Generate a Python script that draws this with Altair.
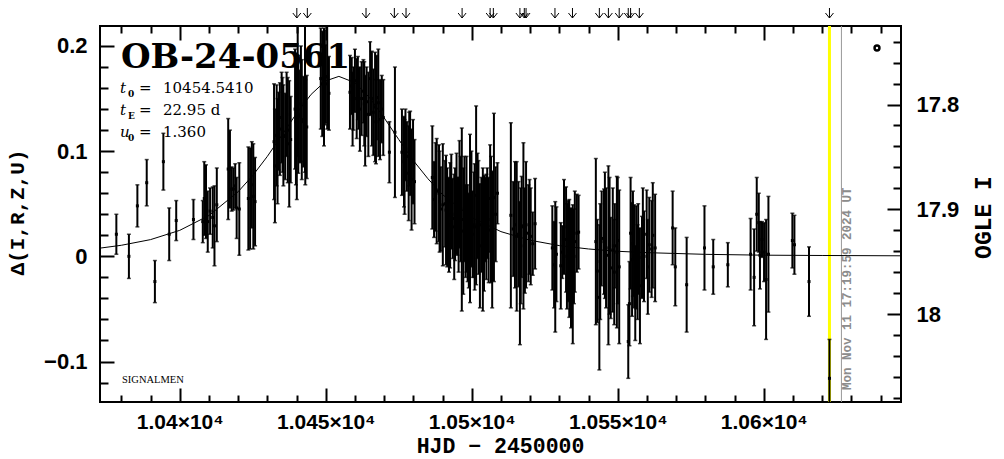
import altair as alt
import pandas as pd

# ---------------- data ----------------
T = [10378.3, 10382.6, 10385.5, 10388.7, 10391.5, 10394.4, 10396.4, 10398.8, 10404.7, 10407.9,
     10408.4, 10409.0, 10409.6, 10410.4, 10411.3, 10411.9, 10412.7, 10416.6, 10417.2, 10417.8,
     10418.4, 10419.0, 10419.5, 10420.4, 10423.5, 10424.1, 10424.7, 10425.2, 10425.8,
     10432.3, 10432.6, 10433.2, 10433.8, 10434.3, 10434.9, 10435.5, 10436.1, 10436.6, 10437.5, 10438.0,
     10439.5, 10440.1, 10440.4, 10440.6, 10441.2, 10441.8, 10442.3, 10442.9, 10443.5,
     10448.3, 10448.8, 10449.4, 10450.0, 10450.5, 10451.1,
     10458.3, 10458.9, 10459.5, 10460.0, 10460.6, 10461.2, 10461.7, 10462.3, 10462.9, 10463.5,
     10464.0, 10464.6, 10465.2, 10466.3, 10466.9, 10467.5, 10468.0, 10468.6, 10469.2, 10469.7,
     10471.8, 10473.7,
     10476.1, 10476.8, 10477.3, 10477.8, 10478.4, 10478.9, 10479.4, 10479.9, 10480.4,
     10486.5, 10487.1, 10488.0, 10488.8, 10489.4, 10490.1, 10490.9, 10491.6, 10492.6, 10493.0,
     10493.5, 10494.3, 10495.1, 10495.8, 10496.2, 10496.6, 10497.1, 10497.9, 10498.2, 10498.6,
     10499.4, 10500.3, 10500.8, 10501.5, 10502.3, 10502.8, 10503.3, 10503.8, 10504.6, 10505.3,
     10505.8, 10506.3, 10507.0, 10507.6, 10508.8,
     10513.4, 10514.2, 10515.4, 10516.0, 10516.5, 10517.1, 10517.7, 10518.6, 10519.4, 10520.2,
     10520.9, 10521.7,
     10527.6, 10528.2, 10528.6, 10530.5, 10531.0, 10531.6, 10532.3, 10533.0, 10533.4, 10534.0,
     10534.6, 10535.3, 10536.0, 10536.6,
     10542.5, 10543.0, 10543.7, 10544.5, 10545.3, 10546.0, 10546.8, 10547.6, 10548.3, 10549.0,
     10549.7, 10550.5,
     10553.6, 10554.4, 10554.9, 10555.6, 10556.3, 10557.0, 10557.6, 10558.3, 10559.0, 10559.9,
     10560.8, 10561.6, 10562.8,
     10568.8, 10569.7, 10573.6, 10579.7, 10582.7, 10587.7,
     10595.5, 10596.7, 10597.6, 10598.3, 10598.7, 10599.4, 10600.1, 10600.8, 10601.6,
     10609.8, 10610.5, 10615.5, 10622.5,
     10433.5, 10435.2, 10437.0, 10439.8, 10441.5, 10443.0, 10449.7, 10459.2, 10461.0, 10463.2,
     10465.8, 10467.2, 10477.0, 10478.6, 10487.6, 10489.0, 10491.2, 10492.2, 10494.0, 10494.8,
     10495.5, 10497.5, 10499.0, 10499.9, 10501.0, 10502.0, 10504.2, 10505.0, 10506.6, 10508.2,
     10514.8, 10516.8, 10518.2, 10519.8, 10529.0, 10532.6, 10535.0, 10544.0, 10545.6, 10547.2,
     10548.8, 10550.0, 10554.0, 10555.2, 10556.0, 10556.8, 10558.6, 10560.3, 10562.0]

D = [0.021, 0.000, 0.048, 0.070, -0.024, 0.090, 0.021, 0.034, 0.035, 0.033,
     0.055, 0.052, 0.033, 0.043, 0.037, 0.029, 0.049, 0.083, 0.083, 0.064,
     0.064, 0.067, 0.046, 0.045, 0.055, 0.055, 0.068, 0.057, 0.052,
     0.109, 0.086, 0.115, 0.119, 0.121, 0.132, 0.115, 0.114, 0.135, 0.107, 0.111,
     0.140, 0.119, 0.160, 0.135, 0.133, 0.130, 0.128, 0.150, 0.123,
     0.169, 0.164, 0.161, 0.164, 0.171, 0.155,
     0.156, 0.162, 0.150, 0.167, 0.150, 0.150, 0.140, 0.150, 0.157, 0.129,
     0.147, 0.135, 0.169, 0.137, 0.142, 0.151, 0.146, 0.130, 0.140, 0.132,
     0.099, 0.118,
     0.099, 0.090, 0.106, 0.095, 0.079, 0.098, 0.073, 0.090, 0.071,
     0.075, 0.054, 0.062, 0.060, 0.045, 0.049, 0.050, 0.037, 0.039, 0.052,
     0.036, 0.040, 0.038, 0.059, 0.045, 0.035, 0.024, 0.024, 0.040, 0.022,
     0.036, 0.021, 0.030, 0.058, 0.037, 0.010, 0.030, 0.016, 0.035, 0.041,
     0.025, 0.055, 0.016, 0.056, 0.060,
     0.039, 0.026, 0.019, 0.021, -0.016, 0.028, 0.029, 0.030, 0.022, 0.019,
     0.012, 0.031,
     0.008, -0.008, -0.010, -0.009, 0.004, 0.028, 0.016, 0.005, -0.002, -0.011,
     -0.017, 0.014, 0.022, 0.023,
     0.014, -0.014, -0.039, 0.017, 0.014, 0.008, 0.001, -0.011, 0.006, 0.010,
     0.004, -0.010,
     -0.081, 0.022, -0.003, 0.000, -0.001, 0.007, -0.028, -0.001, 0.000, 0.021,
     0.011, 0.007, 0.008,
     0.027, -0.010, -0.027, 0.008, -0.010, -0.008,
     0.002, -0.020, 0.040, 0.032, 0.001, 0.016, 0.004, -0.022, 0.002,
     0.015, 0.011, -0.024, -0.116,
     0.100, 0.125, 0.120, 0.128, 0.145, 0.118, 0.170, 0.140, 0.160, 0.145,
     0.150, 0.128, 0.085, 0.102, 0.066, 0.052, 0.044, 0.030, 0.028, 0.050,
     0.030, 0.045, 0.015, 0.045, 0.028, 0.048, 0.022, 0.028, 0.035, 0.040,
     0.030, 0.010, 0.015, 0.028, 0.002, 0.000, 0.000, -0.005, 0.020, 0.010,
     -0.015, 0.015, -0.045, 0.012, -0.035, -0.015, 0.015, -0.010, 0.020]

E = [0.019, 0.021, 0.020, 0.022, 0.020, 0.027, 0.025, 0.019, 0.019, 0.020,
     0.035, 0.035, 0.029, 0.022, 0.029, 0.038, 0.035, 0.048, 0.037, 0.021,
     0.020, 0.021, 0.029, 0.044, 0.049, 0.048, 0.041, 0.050, 0.042,
     0.055, 0.054, 0.048, 0.037, 0.044, 0.043, 0.048, 0.041, 0.040, 0.060, 0.041,
     0.057, 0.065, 0.065, 0.056, 0.044, 0.057, 0.043, 0.070, 0.049,
     0.048, 0.050, 0.056, 0.037, 0.050, 0.035,
     0.035, 0.027, 0.030, 0.030, 0.038, 0.029, 0.040, 0.035, 0.030, 0.043,
     0.033, 0.040, 0.035, 0.041, 0.052, 0.040, 0.051, 0.038, 0.032, 0.036,
     0.029, 0.062,
     0.041, 0.043, 0.034, 0.033, 0.045, 0.040, 0.048, 0.040, 0.040,
     0.049, 0.036, 0.050, 0.046, 0.040, 0.058, 0.041, 0.047, 0.050, 0.045,
     0.038, 0.044, 0.037, 0.051, 0.050, 0.087, 0.060, 0.044, 0.055, 0.046,
     0.080, 0.041, 0.050, 0.085, 0.054, 0.059, 0.045, 0.068, 0.040, 0.043,
     0.050, 0.051, 0.065, 0.080, 0.029,
     0.088, 0.045, 0.071, 0.050, 0.068, 0.048, 0.079, 0.060, 0.046, 0.046,
     0.030, 0.043,
     0.040, 0.041, 0.062, 0.041, 0.025, 0.045, 0.050, 0.048, 0.056, 0.057,
     0.066, 0.048, 0.037, 0.035,
     0.079, 0.049, 0.069, 0.045, 0.050, 0.057, 0.085, 0.048, 0.059, 0.040,
     0.072, 0.073,
     0.035, 0.053, 0.054, 0.049, 0.049, 0.043, 0.055, 0.039, 0.043, 0.042,
     0.045, 0.046, 0.051,
     0.035, 0.037, 0.045, 0.040, 0.026, 0.021,
     0.034, 0.046, 0.035, 0.028, 0.032, 0.017, 0.028, 0.057, 0.055,
     0.026, 0.028, 0.033, 0.037,
     0.050, 0.045, 0.050, 0.060, 0.055, 0.050, 0.045, 0.035, 0.030, 0.040,
     0.045, 0.040, 0.045, 0.035, 0.042, 0.048, 0.052, 0.045, 0.050, 0.048,
     0.045, 0.050, 0.045, 0.055, 0.060, 0.050, 0.055, 0.050, 0.060, 0.045,
     0.060, 0.055, 0.050, 0.045, 0.045, 0.050, 0.045, 0.055, 0.060, 0.065,
     0.050, 0.060, 0.040, 0.050, 0.045, 0.045, 0.050, 0.045, 0.050]

MODEL_T = [10372.7, 10380, 10390, 10400, 10410, 10420, 10425, 10430, 10435, 10440, 10445, 10450,
           10454.5, 10460, 10465, 10470, 10475, 10480, 10485, 10490, 10500, 10510, 10520, 10530,
           10540, 10550, 10560, 10580, 10600, 10620, 10647.0]
MODEL_D = [0.0078, 0.0105, 0.0159, 0.0247, 0.0388, 0.0614, 0.0768, 0.0950, 0.1152, 0.1359, 0.1540, 0.1668,
           0.1711, 0.1651, 0.1509, 0.1317, 0.1111, 0.0911, 0.0738, 0.0587, 0.0370, 0.0235, 0.0153, 0.0102,
           0.0070, 0.0048, 0.0035, 0.0019, 0.0011, 0.0008, 0.0005]

ARROW_T = [10440.1, 10443.7, 10463.8, 10473.5, 10477.5, 10496.7, 10506.3, 10507.4, 10516.5,
           10518.0, 10518.6, 10528.5, 10534.5, 10543.7, 10546.8, 10550.5, 10553.6, 10554.4,
           10557.4, 10622.5]
NOW_T = [10622.5]
LAST_T = [10626.6]

X_DOMAIN = [10372.7, 10647.0]
Y_DOMAIN = [-0.1385, 0.219]
MAG_DOMAIN = [17.725, 18.084]

X_MAJOR = [10400, 10450, 10500, 10550, 10600]
X_MINOR = [10380, 10390, 10410, 10420, 10430, 10440, 10460, 10470, 10480, 10490, 10510,
           10520, 10530, 10540, 10560, 10570, 10580, 10590, 10610, 10620, 10630, 10640]
Y_MAJOR = [-0.1, 0.0, 0.1, 0.2]
Y_MINOR = [-0.12, -0.08, -0.06, -0.04, -0.02, 0.02, 0.04, 0.06, 0.08, 0.12, 0.14, 0.16, 0.18]
MAG_MAJOR = [17.8, 17.9, 18.0]
MAG_MINOR = [17.74, 17.76, 17.78, 17.82, 17.84, 17.86, 17.88, 17.92, 17.94, 17.96, 17.98,
             18.02, 18.04, 18.06, 18.08]

EVENT = "OB-24-0561"
PAR_SYM = "t\nt\nu"
PAR_SUB = "0\nE\n0"
PAR_EQ = "=\n=\n="
PAR_VAL = "10454.5410\n22.95 d\n1.360"
STAMP = "Mon Nov 11 17:19:59 2024 UT"

# ---------------- tables ----------------
df = pd.DataFrame({"t": T, "d": D, "e": E})
df["lo"] = df["d"] - df["e"]
df["hi"] = df["d"] + df["e"]
model = pd.DataFrame({"t": MODEL_T, "d": MODEL_D})
arrows = pd.DataFrame({"t": ARROW_T})
now = pd.DataFrame({"t": NOW_T})
last = pd.DataFrame({"t": LAST_T})
mag_major = pd.DataFrame({"mag": MAG_MAJOR})
mag_minor = pd.DataFrame({"mag": MAG_MINOR})
one = pd.DataFrame({"a": [0]})

xs = alt.Scale(domain=X_DOMAIN, nice=False, zero=False)
ys = alt.Scale(domain=Y_DOMAIN, nice=False, zero=False)
ms = alt.Scale(domain=MAG_DOMAIN, nice=False, zero=False, reverse=True)

W, H = 801, 376
BLK = "black"
common = dict(domain=False, grid=False, tickColor=BLK, tickWidth=2, labelColor=BLK,
              titleColor=BLK)

ax_bottom = alt.Axis(orient="bottom", values=X_MAJOR, tickSize=14, offset=-14,
                     labelExpr="format(datum.value / 10000, '.3~f') + '×10⁴'",
                     labelFont="Liberation Sans", labelFontWeight="bold", labelFontSize=21,
                     labelPadding=9, labelFlush=False, labelOverlap=False,
                     title="HJD − 2450000", titleFont="Liberation Mono", titleFontWeight="bold",
                     titleFontSize=21.5, titleX=400, titleY=58, titleAlign="center",
                     titleBaseline="middle", titleAngle=0, **common)
ax_bottom_minor = alt.Axis(orient="bottom", values=X_MINOR, tickSize=7, offset=-7,
                           labels=False, title=None, **common)
ax_top = alt.Axis(orient="top", values=X_MAJOR, tickSize=14, offset=-14,
                  labels=False, title=None, **common)
ax_top_minor = alt.Axis(orient="top", values=X_MINOR, tickSize=7, offset=-7,
                        labels=False, title=None, **common)
ax_left = alt.Axis(orient="left", values=Y_MAJOR, tickSize=14, offset=-14,
                   labelExpr="datum.value == 0 ? '0' : format(datum.value, '.1f')",
                   labelFont="Liberation Sans", labelFontWeight="bold", labelFontSize=22,
                   labelPadding=13, labelOverlap=False, labelFlush=False,
                   title="Δ(I,R,Z,U)", titleFont="Liberation Mono", titleFontWeight="bold",
                   titleFontSize=21, titleAngle=270, titleX=-97, titleY=186,
                   titleAlign="center", titleBaseline="middle", **common)
ax_left_minor = alt.Axis(orient="left", values=Y_MINOR, tickSize=8, offset=-8,
                         labels=False, title=None, **common)
ax_right = alt.Axis(orient="right", values=MAG_MAJOR, tickSize=14, offset=-14,
                    labelExpr="format(datum.value, '.1~f')",
                    labelFont="Liberation Sans", labelFontWeight="bold", labelFontSize=22,
                    labelPadding=15, labelOverlap=False, labelFlush=False,
                    title="OGLE I", titleFont="Liberation Mono", titleFontWeight="bold",
                    titleFontSize=23, titleAngle=270, titleX=96, titleY=191,
                    titleAlign="center", titleBaseline="middle", **common)
ax_right_minor = alt.Axis(orient="right", values=MAG_MINOR, tickSize=8, offset=-8,
                          labels=False, title=None, **common)

# ---------------- layers ----------------
yellow = alt.Chart(now).mark_rule(color="#ffff00", strokeWidth=3).encode(
    x=alt.X("t:Q", scale=xs, axis=None))
gray = alt.Chart(last).mark_rule(color="#999999", strokeWidth=1).encode(
    x=alt.X("t:Q", scale=xs, axis=None))

curve = alt.Chart(model).mark_line(color=BLK, strokeWidth=1, clip=True).encode(
    x=alt.X("t:Q", scale=xs, axis=None),
    y=alt.Y("d:Q", scale=ys, axis=None),
    order="t:Q")

bars = alt.Chart(df).mark_rule(color=BLK, strokeWidth=2, clip=True).encode(
    x=alt.X("t:Q", scale=xs, axis=ax_bottom),
    y=alt.Y("lo:Q", scale=ys, axis=ax_left),
    y2="hi:Q")
caps_hi = alt.Chart(df).mark_tick(color=BLK, orient="horizontal", size=4, thickness=1.5,
                                  clip=True).encode(
    x=alt.X("t:Q", scale=xs, axis=ax_bottom_minor),
    y=alt.Y("hi:Q", scale=ys, axis=ax_left_minor))
caps_lo = alt.Chart(df).mark_tick(color=BLK, orient="horizontal", size=4, thickness=1.5,
                                  clip=True).encode(
    x=alt.X("t:Q", scale=xs, axis=ax_top),
    y=alt.Y("lo:Q", scale=ys, axis=None))
dots = alt.Chart(df).mark_square(color=BLK, size=9, opacity=1, clip=True).encode(
    x=alt.X("t:Q", scale=xs, axis=ax_top_minor),
    y=alt.Y("d:Q", scale=ys, axis=None))

arrow_lines = alt.Chart(arrows).mark_rule(color=BLK, strokeWidth=1).encode(
    x=alt.X("t:Q", scale=xs, axis=None), y=alt.value(-20), y2=alt.value(-8))
arrow_heads = alt.Chart(arrows).mark_point(shape="M-1,-1.25L0,0L1,-1.25", size=64,
                                           filled=False, color=BLK, strokeWidth=1,
                                           opacity=1).encode(
    x=alt.X("t:Q", scale=xs, axis=None), y=alt.value(-8))

mag_a = alt.Chart(mag_major).mark_point(opacity=0).encode(
    y=alt.Y("mag:Q", scale=ms, axis=ax_right))
mag_b = alt.Chart(mag_minor).mark_point(opacity=0).encode(
    y=alt.Y("mag:Q", scale=ms, axis=ax_right_minor))

marker = alt.Chart(one).mark_point(shape="circle", filled=False, color=BLK, strokeWidth=2.5,
                                   size=24, opacity=1).encode(
    x=alt.value(777), y=alt.value(22))

title_txt = alt.Chart(one).mark_text(font="DejaVu Serif", fontWeight="bold", fontSize=34,
                                     align="left", baseline="alphabetic", color=BLK).encode(
    x=alt.value(21), y=alt.value(42), text=alt.value(EVENT))
sym_txt = alt.Chart(one).mark_text(font="DejaVu Serif", fontStyle="italic", fontSize=15,
                                   align="left", baseline="top", lineBreak="\n",
                                   lineHeight=22, color=BLK).encode(
    x=alt.value(20), y=alt.value(55), text=alt.value(PAR_SYM))
sub_txt = alt.Chart(one).mark_text(font="DejaVu Serif", fontWeight="bold", fontSize=9,
                                   align="left", baseline="top", lineBreak="\n",
                                   lineHeight=22, color=BLK).encode(
    x=alt.value(28), y=alt.value(64), text=alt.value(PAR_SUB))
eq_txt = alt.Chart(one).mark_text(font="DejaVu Serif", fontSize=15,
                                  align="left", baseline="top", lineBreak="\n",
                                  lineHeight=22, color=BLK).encode(
    x=alt.value(39), y=alt.value(55), text=alt.value(PAR_EQ))
val_txt = alt.Chart(one).mark_text(font="DejaVu Serif", fontSize=15,
                                   align="left", baseline="top", lineBreak="\n",
                                   lineHeight=22, color=BLK).encode(
    x=alt.value(63), y=alt.value(55), text=alt.value(PAR_VAL))
sig_txt = alt.Chart(one).mark_text(font="Liberation Serif", fontSize=10.5, align="left",
                                   baseline="alphabetic", color=BLK).encode(
    x=alt.value(22), y=alt.value(357), text=alt.value("SIGNALMEN"))
stamp_txt = alt.Chart(one).mark_text(font="Liberation Mono", fontWeight="bold", fontSize=12.5,
                                     angle=270, align="left", baseline="middle",
                                     color="#8c8c8c").encode(
    x=alt.value(747), y=alt.value(364), text=alt.value(STAMP))

chart = alt.layer(
    yellow, gray, curve, bars, caps_hi, caps_lo, dots,
    arrow_lines, arrow_heads, mag_a, mag_b, marker,
    title_txt, sym_txt, sub_txt, eq_txt, val_txt, sig_txt, stamp_txt
).resolve_scale(
    y="independent"
).resolve_axis(
    x="independent", y="independent"
).properties(
    width=W, height=H,
    autosize=alt.AutoSizeParams(type="none"),
    padding={"left": 92, "top": 18, "right": 95, "bottom": 57},
    background="white"
).configure_view(
    stroke=BLK, strokeWidth=2
).configure_axis(
    grid=False, domain=False
)

chart.save("out.html", embed_options={"renderer": "svg", "actions": False})
